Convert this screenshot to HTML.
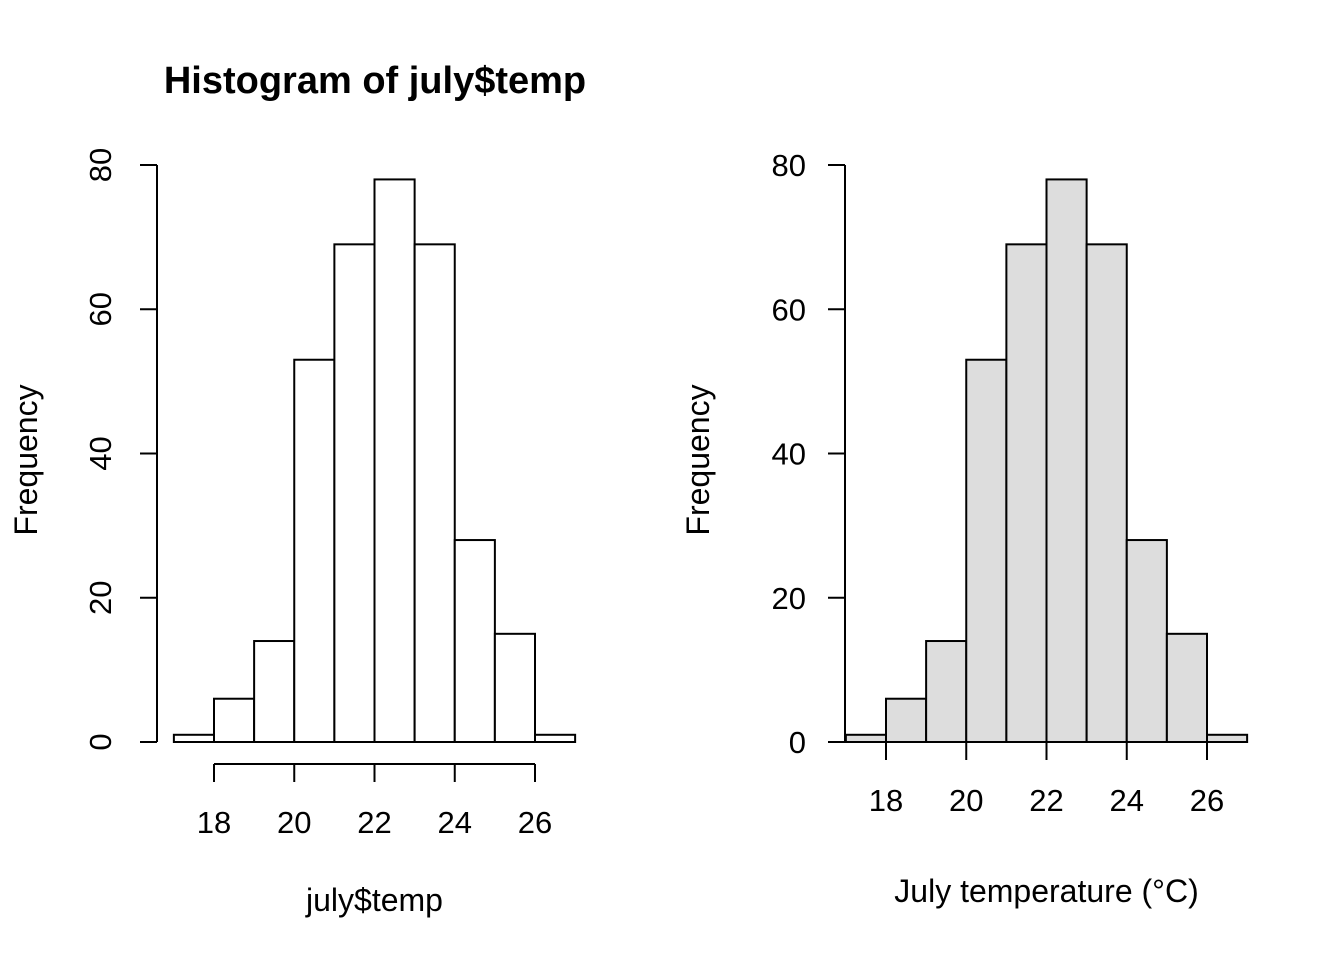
<!DOCTYPE html>
<html><head><meta charset="utf-8">
<style>
html,body{margin:0;padding:0;background:#fff;}
svg{display:block;font-family:"Liberation Sans",Arial,sans-serif;}
</style></head>
<body>
<svg id="chart" width="1344" height="960" viewBox="0 0 1344 960">
<text x="375" y="93" text-anchor="middle" font-size="38" font-weight="bold">Histogram of july$temp</text>
<g id="left"></g>
<g id="right"></g>
</svg>
<script>
const binEdges = [17,18,19,20,21,22,23,24,25,26,27];
const counts = [1,6,14,53,69,78,69,28,15,1];
const xTicks = [18,20,22,24,26];
const yTicks = [0,20,40,60,80];
const NS = "http://www.w3.org/2000/svg";
function mk(parent, tag, attrs, text){
  const e = document.createElementNS(NS, tag);
  for (const k in attrs) e.setAttribute(k, attrs[k]);
  if (text !== undefined) e.textContent = text;
  parent.appendChild(e);
  return e;
}
function draw(gid, axisX, x18, fill, separateXAxis, rotY, xlabel, xlabY, freqX){
  const g = document.getElementById(gid);
  const sx = v => x18 + (v - 18) * 40.125;
  const sy = v => 742 - v * 7.2125;
  counts.forEach((c,i)=>{
    const r = mk(g,'rect',{x:sx(binEdges[i]),y:sy(c),width:sx(binEdges[i+1])-sx(binEdges[i]),height:sy(0)-sy(c),fill:fill,stroke:'#000','stroke-width':2});
    
    
  });
  const ya = mk(g,'line',{x1:axisX,x2:axisX,y1:sy(0),y2:sy(80),stroke:'#000','stroke-width':2});
  
  
  yTicks.forEach(t=>{
    mk(g,'line',{x1:axisX-17,x2:axisX,y1:sy(t),y2:sy(t),stroke:'#000','stroke-width':2});
    let lab;
    if (rotY){
      lab = mk(g,'text',{x:0,y:0,transform:`translate(${axisX-46},${sy(t)}) rotate(-90)`,'text-anchor':'middle','font-size':31},t);
    } else {
      lab = mk(g,'text',{x:axisX-39,y:sy(t)+11,'text-anchor':'end','font-size':31},t);
    }
    
    
  });
  const base = separateXAxis ? 764 : 742;
  const xa = mk(g,'line',{x1:sx(xTicks[0]),x2:sx(xTicks[xTicks.length-1]),y1:base,y2:base,stroke:'#000','stroke-width':2});
  
  
  xTicks.forEach(t=>{
    mk(g,'line',{x1:sx(t),x2:sx(t),y1:base,y2:base+18,stroke:'#000','stroke-width':2});
    const lab = mk(g,'text',{x:sx(t),y:base+69,'text-anchor':'middle','font-size':31},t);
    
    
  });
  const xl = mk(g,'text',{x:(sx(17)+sx(27))/2,y:xlabY,'text-anchor':'middle','font-size':32},xlabel);
  
  
  const yl = mk(g,'text',{x:0,y:0,transform:`translate(${freqX},460) rotate(-90)`,'text-anchor':'middle','font-size':32},'Frequency');
  
  
}
draw('left',157,214,'#ffffff',true,true,'july$temp',911,37);
draw('right',845,886,'#dddddd',false,false,'July temperature (°C)',902,709);
</script>
</body></html>
